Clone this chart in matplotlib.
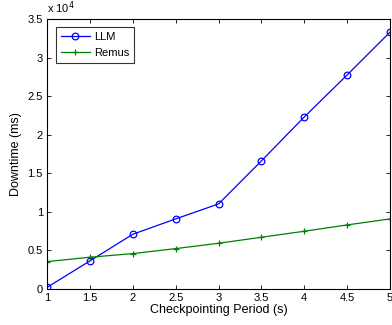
import matplotlib
matplotlib.use("Agg")
import matplotlib.pyplot as plt

plt.rcParams['font.family'] = ['Liberation Sans', 'DejaVu Sans']

periods = [1, 1.5, 2, 2.5, 3, 3.5, 4, 4.5, 5]
llm = [200, 3630, 7090, 9080, 11020, 16600, 22300, 27750, 33300]
remus = [3540, 4110, 4580, 5230, 5920, 6700, 7480, 8300, 9080]
xticks = [1, 1.5, 2, 2.5, 3, 3.5, 4, 4.5, 5]
xticklabels = ['1', '1.5', '2', '2.5', '3', '3.5', '4', '4.5', '5']
yticks = [0, 5000, 10000, 15000, 20000, 25000, 30000, 35000]
yticklabels = ['0', '0.5', '1', '1.5', '2', '2.5', '3', '3.5']

fig = plt.figure(figsize=(3.92, 3.25), dpi=100)
ax = fig.add_axes([0.12, 0.111, 0.875, 0.8305])
ax.plot(periods, llm, color='#0000ff', marker='o', markersize=4.8, markerfacecolor='none',
        markeredgecolor='#0000ff', markeredgewidth=0.9, linewidth=0.9, label='LLM')
ax.plot(periods, remus, color='#008000', marker='+', markersize=5,
        markeredgewidth=0.9, linewidth=0.9, label='Remus')
ax.set_xlim(1, 5)
ax.set_ylim(0, 35000)
ax.set_xticks(xticks)
ax.set_xticklabels(xticklabels, fontsize=8)
ax.set_yticks(yticks)
ax.set_yticklabels(yticklabels, fontsize=8)
ax.tick_params(direction='in', top=True, right=True, length=3, width=0.6, pad=3)
for s in ax.spines.values():
    s.set_linewidth(0.8)
ax.set_xlabel('Checkpointing Period (s)', fontsize=9, labelpad=1)
ax.set_ylabel('Downtime (ms)', fontsize=9, labelpad=4)
ax.text(0.0, 1.012, r'x 10$^4$', transform=ax.transAxes, fontsize=8, ha='left', va='bottom')
leg = ax.legend(loc='upper left', fontsize=8, frameon=True, fancybox=False,
                edgecolor='black', borderpad=0.45, handlelength=2.6, handletextpad=0.4,
                bbox_to_anchor=(0.025, 0.97), labelspacing=0.55, borderaxespad=0)
leg.get_frame().set_linewidth(0.8)
fig.savefig('out.png', dpi=100)
